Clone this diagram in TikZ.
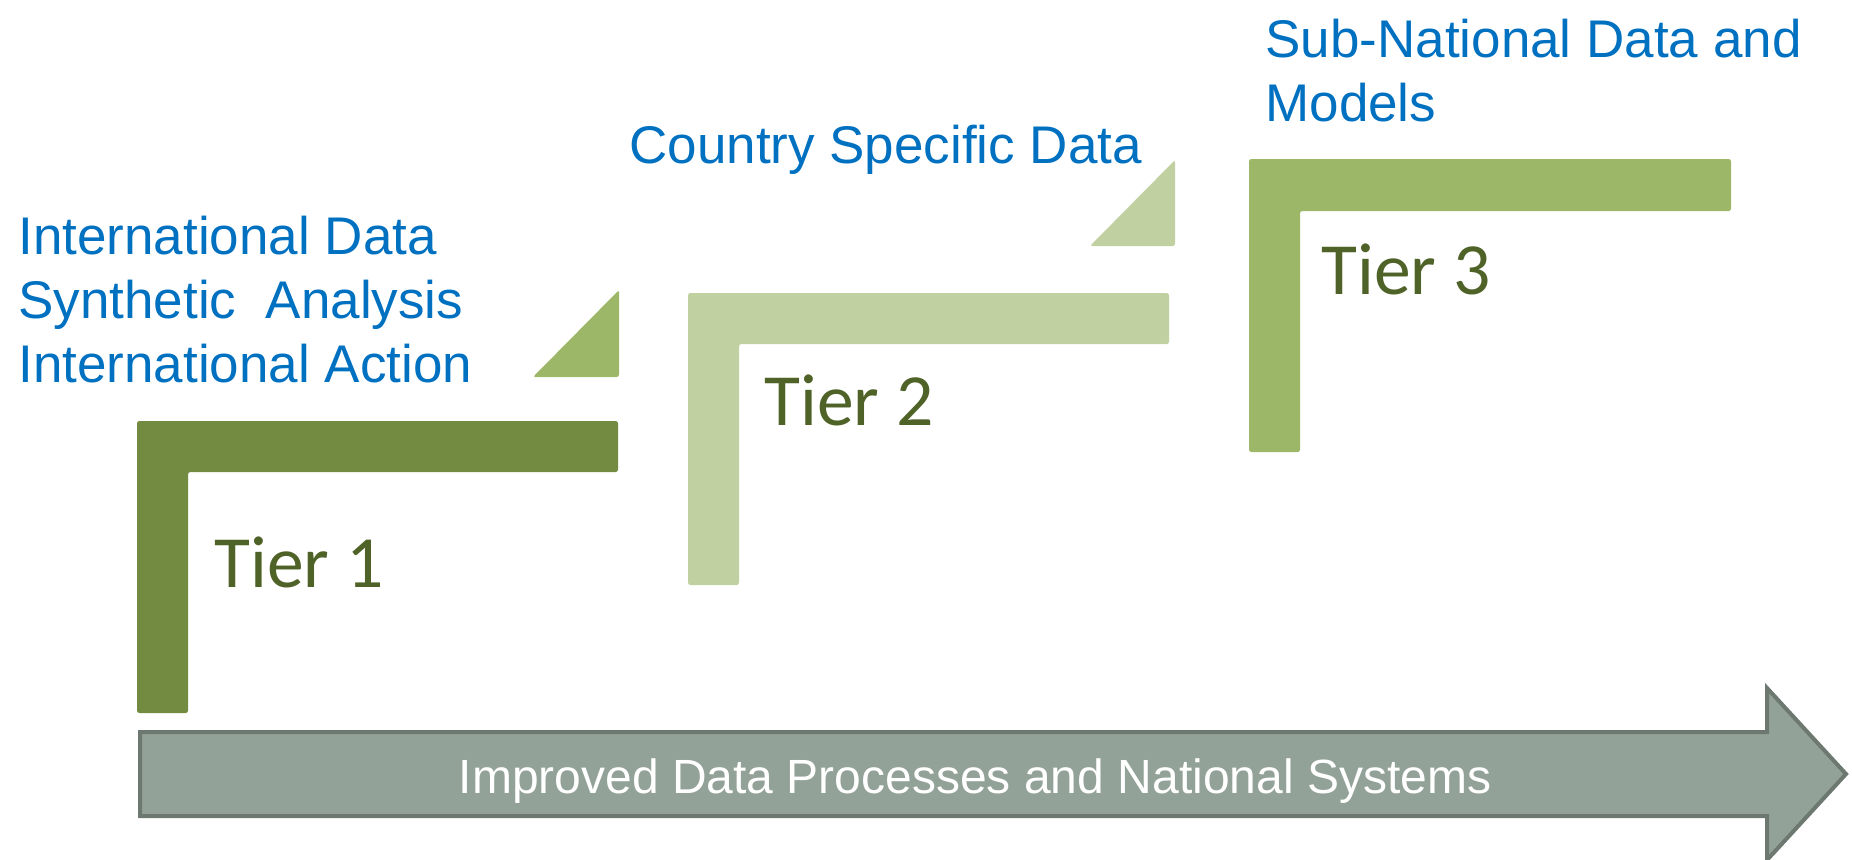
\documentclass[tikz,border=0pt]{standalone}
\usepackage{fontspec}
\newfontfamily\arialf{Liberation Sans}
\newfontfamily\calibf{Carlito}
\definecolor{blueTxt}{RGB}{0,112,192}
\definecolor{tierTxt}{RGB}{79,98,40}
\definecolor{gDark}{RGB}{115,139,64}
\definecolor{gMid}{RGB}{155,183,103}
\definecolor{gLight}{RGB}{192,208,160}
\definecolor{arrFill}{RGB}{147,162,152}
\definecolor{arrLine}{RGB}{108,120,112}
\tikzset{
  bluelabel/.style={anchor=base west, inner sep=0pt, text=blueTxt, font=\arialf\fontsize{26.5}{32}\selectfont},
  tierlabel/.style={anchor=base west, inner sep=0pt, text=tierTxt, font=\calibf\fontsize{36.8}{44}\selectfont},
  lshape/.style={rounded corners=1.2pt},
}
\begin{document}
\begin{tikzpicture}[x=0.5pt,y=-0.5pt]
\useasboundingbox (0,0) rectangle (1852,859);
\begin{scope}
\clip (0,0) rectangle (1852,859);
% bottom arrow
\draw[fill=arrFill, draw=arrLine, line width=2pt]
  (140,732) -- (1767,732) -- (1767,688) -- (1846,774) -- (1767,860) -- (1767,816) -- (140,816) -- cycle;
\end{scope}
\node[anchor=base, inner sep=0pt, text=white, font=\arialf\fontsize{24}{29}\selectfont] (arrtxt) at (975,793) {Improved Data Processes and National Systems};

% Tier 1
\fill[gDark, lshape] (137,421) -- (618,421) -- (618,472) -- (188,472) -- (188,713) -- (137,713) -- cycle;
% Tier 2
\fill[gLight, lshape] (688,293) -- (1169,293) -- (1169,344) -- (739,344) -- (739,585) -- (688,585) -- cycle;
% Tier 3
\fill[gMid, lshape] (1249,159) -- (1731,159) -- (1731,211) -- (1300,211) -- (1300,452) -- (1249,452) -- cycle;

% triangles
\fill[gMid, lshape] (533,377) -- (619,377) -- (619,290) -- cycle;
\fill[gLight, lshape] (1090,246) -- (1175,246) -- (1175,160) -- cycle;

% tier labels
\node[tierlabel] (t1) at (214,587) {Tier 1};
\node[tierlabel] (t2) at (764,425) {Tier 2};
\node[tierlabel] (t3) at (1321,294) {Tier 3};

% blue labels
\node[bluelabel] (l1a) at (18,254) {International Data};
\node[bluelabel] (l1b) at (18,318) {Synthetic\ \ Analysis};
\node[bluelabel] (l1c) at (18,382) {International Action};
\node[bluelabel] (l2) at (629,163) {Country Specific Data};
\node[bluelabel] (l3a) at (1265,57) {Sub-National Data and};
\node[bluelabel] (l3b) at (1265,121) {Models};
\end{tikzpicture}
\end{document}
